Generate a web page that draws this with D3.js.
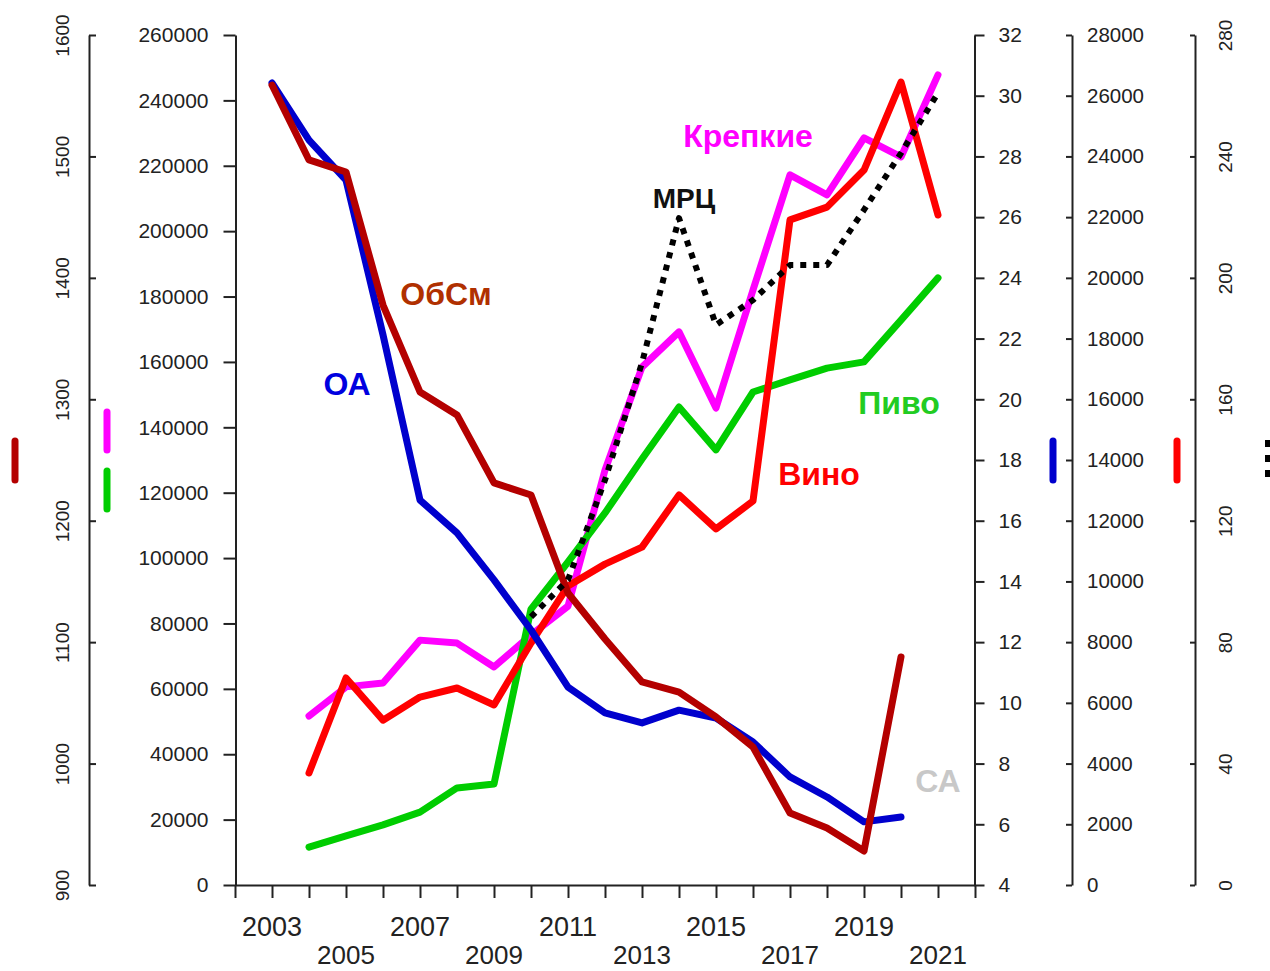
<!DOCTYPE html>
<html>
<head>
<meta charset="utf-8">
<script src="https://cdn.jsdelivr.net/npm/d3@7"></script>
<style>
  html, body { margin: 0; padding: 0; background: #fff; }
  svg { display: block; font-family: "Liberation Sans", Arial, sans-serif; }
</style>
</head>
<body>
<svg id="chart" width="1270" height="971"></svg>
<script>
// ---------------- data ----------------
const years = [2003, 2004, 2005, 2006, 2007, 2008, 2009, 2010, 2011, 2012,
               2013, 2014, 2015, 2016, 2017, 2018, 2019, 2020, 2021];

// ОА (axis 4–32)
const oa = [30.42, 28.54, 27.22, 22.12, 16.68, 15.60, 14.05, 12.40, 10.52, 9.67,
            9.34, 9.76, 9.50, 8.71, 7.56, 6.90, 6.08, 6.24, null];
// ОбСм (axis 900–1600)
const obsm = [1558.8, 1497.1, 1487.2, 1377.6, 1306.0, 1287.1, 1231.1, 1221.2, 1140.5, 1102.6,
              1067.2, 1058.9, 1038.4, 1013.6, 959.3, 946.9, 928.0, 1087.8, null];
// Крепкие (axis 0–260000)
const krepkie = [null, 51700, 60600, 61800, 74900, 74000, 66700, 76500, 85300, 126900,
                 158400, 169200, 145900, 182000, 217200, 211100, 228500, 222700, 247800];
// Пиво (axis 0–260000)
const pivo = [null, 11600, 15000, 18400, 22300, 29700, 30900, 84400, 98800, 113800,
              130300, 146200, 133100, 150800, 154500, 158100, 160000, 172800, 185700];
// Вино (axis 0–28000)
const vino = [null, 3690, 6820, 5430, 6190, 6490, 5930, 7970, 9850, 10570,
              11130, 12850, 11730, 12650, 21910, 22330, 23550, 26450, 22070];
// МРЦ (axis 0–280)
const mrc = [null, null, null, null, null, null, null, 88.3, 100.5, 133.4,
             172.0, 219.7, 184.5, 192.7, 204.2, 204.2, 222.4, 241.1, 260.9];

const xTicks = [2002, 2003, 2004, 2005, 2006, 2007, 2008, 2009, 2010, 2011, 2012,
                2013, 2014, 2015, 2016, 2017, 2018, 2019, 2020, 2021, 2022];
const xLabelsRow1 = [2003, 2007, 2011, 2015, 2019];
const xLabelsRow2 = [2005, 2009, 2013, 2017, 2021];

const ticksObsm = [900, 1000, 1100, 1200, 1300, 1400, 1500, 1600];
const ticksMain = [0, 20000, 40000, 60000, 80000, 100000, 120000, 140000, 160000,
                   180000, 200000, 220000, 240000, 260000];
const ticksOa = [4, 6, 8, 10, 12, 14, 16, 18, 20, 22, 24, 26, 28, 30, 32];
const ticksVino = [0, 2000, 4000, 6000, 8000, 10000, 12000, 14000, 16000, 18000,
                   20000, 22000, 24000, 26000, 28000];
const ticksMrc = [0, 40, 80, 120, 160, 200, 240, 280];

// ---------------- layout ----------------
const svg = d3.select("#chart");
const W = 1270, H = 971;
svg.append("rect").attr("width", W).attr("height", H).attr("fill", "#fff");

const plotTop = 35, plotBottom = 885;
const x = d3.scaleLinear().domain([2002, 2022]).range([235, 975]);
const yObsm = d3.scaleLinear().domain([900, 1600]).range([plotBottom, plotTop]);
const yMain = d3.scaleLinear().domain([0, 260000]).range([plotBottom, plotTop]);
const yOa = d3.scaleLinear().domain([4, 32]).range([plotBottom, plotTop]);
const yVino = d3.scaleLinear().domain([0, 28000]).range([plotBottom, plotTop]);
const yMrc = d3.scaleLinear().domain([0, 280]).range([plotBottom, plotTop]);

const axisColor = "#222";
function styleAxis(g, size) {
  g.selectAll(".domain").attr("stroke", axisColor).attr("stroke-width", 2);
  g.selectAll(".tick line").attr("stroke", axisColor).attr("stroke-width", 2);
  g.selectAll(".tick text").attr("fill", "#222").style("font-size", size + "px")
    .style("font-family", '"Liberation Sans", Arial, sans-serif');
}

// Far-left axis (ОбСм, 900–1600), ticks inward, rotated labels
const gObsm = svg.append("g").attr("transform", "translate(89,0)")
  .call(d3.axisLeft(yObsm).tickValues(ticksObsm).tickSize(-7).tickSizeOuter(0).tickFormat(d3.format("d")));
styleAxis(gObsm, 19);
gObsm.selectAll(".tick text")
  .attr("x", null).attr("dy", null)
  .attr("text-anchor", "middle")
  .attr("transform", "translate(-20,0) rotate(-90)");

// Main left axis (0–260000)
const gMain = svg.append("g").attr("transform", "translate(235.5,0)")
  .call(d3.axisLeft(yMain).tickValues(ticksMain).tickSize(12).tickPadding(15).tickSizeOuter(0).tickFormat(d3.format("d")));
styleAxis(gMain, 21);

// Right axis (ОА, 4–32)
const gOa = svg.append("g").attr("transform", "translate(974.5,0)")
  .call(d3.axisRight(yOa).tickValues(ticksOa).tickSize(10).tickPadding(14).tickSizeOuter(0).tickFormat(d3.format("d")));
styleAxis(gOa, 21);

// Second right axis (Вино, 0–28000)
const gVino = svg.append("g").attr("transform", "translate(1072,0)")
  .call(d3.axisRight(yVino).tickValues(ticksVino).tickSize(-6).tickPadding(15).tickSizeOuter(0).tickFormat(d3.format("d")));
styleAxis(gVino, 20.5);

// Third right axis (МРЦ, 0–280), rotated labels
const gMrc = svg.append("g").attr("transform", "translate(1195,0)")
  .call(d3.axisRight(yMrc).tickValues(ticksMrc).tickSize(-5).tickSizeOuter(0).tickFormat(d3.format("d")));
styleAxis(gMrc, 19);
gMrc.selectAll(".tick text")
  .attr("x", null).attr("dy", null)
  .attr("text-anchor", "middle")
  .attr("transform", "translate(37,0) rotate(-90)");

// Bottom axis
const gX = svg.append("g").attr("transform", `translate(0,${plotBottom})`)
  .call(d3.axisBottom(x).tickValues(xTicks).tickSize(13).tickSizeOuter(0).tickFormat(""));
styleAxis(gX, 27);

svg.append("g").selectAll("text").data(xLabelsRow1).join("text")
  .attr("x", d => x(d)).attr("y", 936).attr("text-anchor", "middle")
  .attr("fill", "#222").style("font-size", "27px").text(d => d);
svg.append("g").selectAll("text").data(xLabelsRow2).join("text")
  .attr("x", d => x(d)).attr("y", 964).attr("text-anchor", "middle")
  .attr("fill", "#222").style("font-size", "26px").text(d => d);

// ---------------- series ----------------
const colors = {
  krepkie: "#ff00ff",
  pivo: "#00cd00",
  vino: "#ff0000",
  oa: "#0000cd",
  obsm: "#b40000",
  mrc: "#000000"
};

function drawLine(values, yScale, color, opts = {}) {
  const pts = years.map((yr, i) => ({ yr, v: values[i] }));
  const line = d3.line()
    .defined(d => d.v !== null)
    .x(d => x(d.yr))
    .y(d => yScale(d.v));
  const p = svg.append("path")
    .datum(pts)
    .attr("d", line)
    .attr("fill", "none")
    .attr("stroke", color)
    .attr("stroke-width", opts.width || 7)
    .attr("stroke-linejoin", "round")
    .attr("stroke-linecap", opts.dash ? "butt" : "round");
  if (opts.dash) p.attr("stroke-dasharray", opts.dash);
}

drawLine(krepkie, yMain, colors.krepkie);
drawLine(pivo, yMain, colors.pivo);
drawLine(vino, yVino, colors.vino);
drawLine(oa, yOa, colors.oa);
drawLine(obsm, yObsm, colors.obsm);
drawLine(mrc, yMrc, colors.mrc, { width: 6, dash: "6,7" });

// ---------------- series labels ----------------
const labels = [
  { t: "ОА", x: 347, y: 395, c: "#0000e0", s: 32 },
  { t: "ОбСм", x: 446, y: 305, c: "#b03000", s: 32 },
  { t: "Крепкие", x: 748, y: 147, c: "#ff00ff", s: 32 },
  { t: "МРЦ", x: 684, y: 208, c: "#111", s: 28 },
  { t: "Пиво", x: 899, y: 414, c: "#22cc22", s: 32 },
  { t: "Вино", x: 819, y: 485, c: "#ff0000", s: 32 },
  { t: "СА", x: 938, y: 792, c: "#c8c8c8", s: 32 }
];
svg.append("g").selectAll("text").data(labels).join("text")
  .attr("x", d => d.x).attr("y", d => d.y)
  .attr("text-anchor", "middle")
  .attr("fill", d => d.c)
  .style("font-size", d => d.s + "px")
  .style("font-weight", "bold")
  .text(d => d.t);

// ---------------- axis colour keys ----------------
const keys = [
  { x: 15, y1: 441, y2: 480, c: colors.obsm },
  { x: 107, y1: 412, y2: 450, c: colors.krepkie },
  { x: 107, y1: 471, y2: 509, c: colors.pivo },
  { x: 1053, y1: 441, y2: 480, c: colors.oa },
  { x: 1177, y1: 441, y2: 480, c: colors.vino }
];
svg.append("g").selectAll("line").data(keys).join("line")
  .attr("x1", d => d.x).attr("x2", d => d.x)
  .attr("y1", d => d.y1).attr("y2", d => d.y2)
  .attr("stroke", d => d.c).attr("stroke-width", 7)
  .attr("stroke-linecap", "round");
svg.append("line")
  .attr("x1", 1268).attr("x2", 1268).attr("y1", 440).attr("y2", 484)
  .attr("stroke", "#000").attr("stroke-width", 6)
  .attr("stroke-dasharray", "7,8");
</script>
</body>
</html>
